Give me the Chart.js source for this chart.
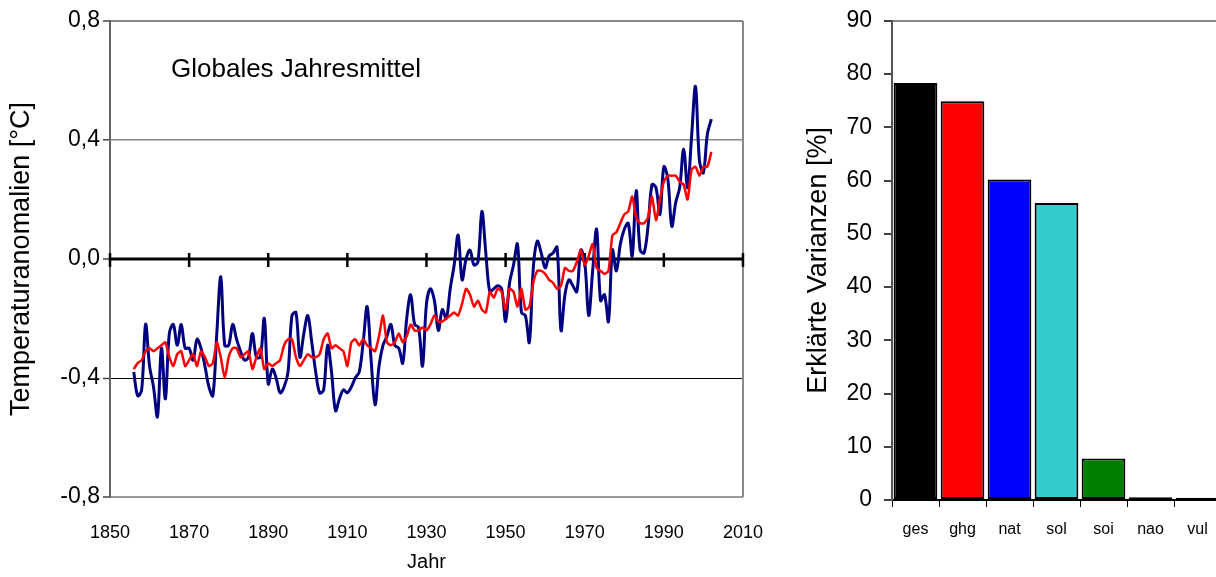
<!DOCTYPE html>
<html>
<head>
<meta charset="utf-8">
<script src="https://cdn.jsdelivr.net/npm/chart.js@4/dist/chart.umd.min.js"></script>
<style>
  html, body { margin: 0; padding: 0; background: #fff; overflow: hidden; width: 1216px; height: 577px; }
  #links { position: absolute; left: 0; top: 0; }
  #rechts { position: absolute; left: 780px; top: -5px; }
  #beschriftung { position: absolute; left: 171px; top: 53px; line-height: 30px; font-size: 26px;
    font-family: 'Liberation Sans', Arial, sans-serif; color: #000; white-space: nowrap; z-index: 2; }
</style>
</head>
<body>
<canvas id="links" width="780" height="577"></canvas>
<canvas id="rechts" width="445" height="582"></canvas>
<div id="beschriftung">Globales Jahresmittel</div>
<script>
// ---------- DATEN ----------
const startJahr = 1856;

// beobachtete Jahresmittel (blau), 1856-2002
const beobachtet = [
  -0.38, -0.46, -0.44, -0.22,
  -0.36, -0.43, -0.53, -0.30, -0.47, -0.25, -0.22, -0.29, -0.22, -0.30,
  -0.30, -0.34, -0.27, -0.30, -0.36, -0.43, -0.46, -0.25, -0.06, -0.29,
  -0.29, -0.22, -0.27, -0.31, -0.34, -0.33, -0.25, -0.33, -0.33, -0.20,
  -0.42, -0.37, -0.40, -0.45, -0.43, -0.38, -0.19, -0.18, -0.33, -0.25,
  -0.19, -0.28, -0.38, -0.45, -0.44, -0.29, -0.38, -0.51, -0.47, -0.44,
  -0.45, -0.43, -0.40, -0.38, -0.28, -0.16, -0.34, -0.49, -0.36, -0.29,
  -0.26, -0.22, -0.29, -0.30, -0.35, -0.20, -0.12, -0.22, -0.23, -0.36,
  -0.15, -0.10, -0.14, -0.24, -0.17, -0.20, -0.10, -0.02, 0.08, -0.07,
  0.00, 0.03, -0.02, -0.01, 0.16, 0.02, -0.11, -0.10, -0.09, -0.10,
  -0.21, -0.08, -0.02, 0.05, -0.18, -0.19, -0.28, -0.03, 0.06, 0.02,
  -0.03, 0.01, 0.02, 0.04, -0.24, -0.12, -0.07, -0.09, -0.11, 0.03,
  -0.01, -0.19, -0.04, 0.10, -0.14, -0.12, -0.21, 0.03, -0.04, 0.05,
  0.10, 0.12, 0.01, 0.23, 0.03, 0.02, 0.11, 0.25, 0.24, 0.15,
  0.31, 0.27, 0.11, 0.19, 0.24, 0.37, 0.24, 0.41, 0.58, 0.33,
  0.29, 0.42, 0.47
];

// Modell (rot), 1856-2002
const modell = [
  -0.37, -0.35, -0.34, -0.31,
  -0.30, -0.31, -0.30, -0.29, -0.28, -0.33, -0.36, -0.32, -0.31, -0.36,
  -0.34, -0.32, -0.36, -0.31, -0.33, -0.36, -0.35, -0.28, -0.33, -0.40,
  -0.33, -0.30, -0.30, -0.33, -0.32, -0.31, -0.37, -0.33, -0.30, -0.37,
  -0.35, -0.36, -0.35, -0.34, -0.29, -0.27, -0.27, -0.33, -0.36, -0.34,
  -0.32, -0.33, -0.33, -0.32, -0.27, -0.25, -0.30, -0.29, -0.30, -0.31,
  -0.36, -0.28, -0.27, -0.29, -0.27, -0.29, -0.30, -0.31, -0.26, -0.19,
  -0.28, -0.29, -0.28, -0.25, -0.28, -0.26, -0.22, -0.24, -0.24, -0.23,
  -0.24, -0.22, -0.19, -0.21, -0.21, -0.20, -0.19, -0.18, -0.19, -0.15,
  -0.10, -0.12, -0.16, -0.14, -0.17, -0.18, -0.11, -0.13, -0.10, -0.11,
  -0.17, -0.10, -0.11, -0.16, -0.10, -0.17, -0.16, -0.08, -0.04, -0.04,
  -0.05, -0.07, -0.08, -0.10, -0.09, -0.03, -0.04, -0.04, -0.01, 0.03,
  -0.02, 0.01, 0.05, -0.03, -0.04, -0.05, -0.04, 0.08, 0.09, 0.12,
  0.15, 0.16, 0.21, 0.14, 0.12, 0.12, 0.14, 0.21, 0.13, 0.20,
  0.26, 0.28, 0.28, 0.28, 0.26, 0.25, 0.20, 0.30, 0.31, 0.28,
  0.31, 0.31, 0.36
];

const jahre = beobachtet.map((_, i) => startJahr + i);

// Balken rechts
const kategorien = ['ges', 'ghg', 'nat', 'sol', 'soi', 'nao', 'vul'];
const varianzen = [78.3, 74.9, 60.2, 55.8, 7.8, 0.5, 0.4];
const balkenFarben = ['#000000', '#ff0000', '#0000ff', '#33cccc', '#008000', '#000000', '#000000'];

const schrift = "'Liberation Sans', Arial, sans-serif";
Chart.defaults.font.family = schrift;
Chart.defaults.color = '#000';

// ---------- NULLLINIE MIT KREUZ-TICKS + RAHMEN RECHTS ----------
const nullLinie = {
  id: 'nullLinie',
  beforeDatasetsDraw(chart) {
    const { ctx, chartArea, scales: { x, y } } = chart;
    const y0 = y.getPixelForValue(0);
    ctx.save();
    ctx.strokeStyle = '#888';
    ctx.lineWidth = 2;
    ctx.beginPath();
    ctx.moveTo(chartArea.right, chartArea.top);
    ctx.lineTo(chartArea.right, chartArea.bottom);
    ctx.stroke();

    ctx.strokeStyle = '#000';
    ctx.lineWidth = 3;
    ctx.beginPath();
    ctx.moveTo(chartArea.left, y0);
    ctx.lineTo(chartArea.right, y0);
    ctx.stroke();
    ctx.lineWidth = 2.5;
    ctx.beginPath();
    x.ticks.forEach(t => {
      const px = x.getPixelForValue(t.value);
      ctx.moveTo(px, y0 - 6);
      ctx.lineTo(px, y0 + 8);
    });
    ctx.stroke();
    ctx.restore();
  }
};

// ---------- LINIENDIAGRAMM ----------
new Chart(document.getElementById('links'), {
  type: 'line',
  data: {
    datasets: [
      {
        label: 'Modell',
        data: jahre.map((j, i) => ({ x: j, y: modell[i] })),
        borderColor: '#ff0000',
        borderWidth: 2.5,
        pointRadius: 0,
        tension: 0.2,
        order: 0
      },
      {
        label: 'Beobachtung',
        data: jahre.map((j, i) => ({ x: j, y: beobachtet[i] })),
        borderColor: '#000080',
        borderWidth: 3,
        pointRadius: 0,
        tension: 0.35,
        order: 1
      }
    ]
  },
  options: {
    responsive: false,
    animation: false,
    layout: { padding: { left: 0, top: 21, right: 35, bottom: 0 } },
    plugins: { legend: { display: false }, tooltip: { enabled: false } },
    scales: {
      x: {
        type: 'linear',
        min: 1850,
        max: 2010,
        afterFit: s => { s.height = 80; },
        ticks: {
          stepSize: 20,
          callback: v => String(v),
          font: { size: 18 },
          padding: 17,
          maxRotation: 0
        },
        grid: { display: false },
        border: { display: true, color: '#999', width: 2 },
        title: {
          display: true,
          text: 'Jahr',
          font: { size: 20 },
          padding: { top: 0, bottom: 3 }
        }
      },
      y: {
        min: -0.8,
        max: 0.8,
        afterFit: s => { s.width = 110; },
        ticks: {
          stepSize: 0.4,
          callback: v => (Math.abs(v) < 1e-9 ? 0 : v).toFixed(1).replace('.', ','),
          font: { size: 23 },
          padding: 3
        },
        grid: {
          color: c => {
            const v = c.tick ? c.tick.value : 0;
            if (Math.abs(v) < 1e-9) return 'rgba(0,0,0,0)';
            if (Math.abs(v + 0.4) < 1e-9) return '#000';
            return '#888';
          },
          lineWidth: c => {
            const v = c.tick ? c.tick.value : 0;
            if (Math.abs(v + 0.4) < 1e-9) return 1;
            if (Math.abs(v - 0.4) < 1e-9) return 1.5;
            return 2;
          },
          tickColor: '#444',
          tickWidth: 1.5,
          tickLength: 7
        },
        border: { display: true, color: '#666', width: 2 },
        title: {
          display: true,
          text: 'Temperaturanomalien [°C]',
          font: { size: 27 },
          padding: { top: 5, bottom: 0 }
        }
      }
    }
  },
  plugins: [nullLinie]
});

// ---------- BALKENDIAGRAMM ----------
new Chart(document.getElementById('rechts'), {
  type: 'bar',
  data: {
    labels: kategorien,
    datasets: [{
      data: varianzen,
      backgroundColor: balkenFarben,
      borderColor: '#000',
      borderWidth: 2,
      borderSkipped: false,
      barPercentage: 0.93,
      categoryPercentage: 1
    }]
  },
  options: {
    responsive: false,
    animation: false,
    layout: { padding: { left: 0, top: 0, right: 4, bottom: 0 } },
    plugins: { legend: { display: false }, tooltip: { enabled: false } },
    scales: {
      x: {
        afterFit: s => { s.height = 77; },
        ticks: { font: { size: 16 }, padding: 13 },
        grid: {
          display: true,
          offset: true,
          drawOnChartArea: false,
          drawTicks: true,
          tickLength: 7,
          tickColor: '#000',
          tickWidth: 1
        },
        border: { display: true, color: '#000', width: 2 }
      },
      y: {
        min: 0,
        max: 90,
        afterFit: s => { s.width = 112; },
        ticks: { stepSize: 10, font: { size: 23 }, padding: 12 },
        grid: {
          color: c => (c.tick && c.tick.value === 90 ? '#888' : 'rgba(0,0,0,0)'),
          lineWidth: 2,
          tickColor: '#000',
          tickWidth: 1.5,
          tickLength: 8
        },
        border: { display: true, color: '#555', width: 2 },
        title: {
          display: true,
          text: 'Erklärte Varianzen [%]',
          font: { size: 27 },
          padding: { top: 22, bottom: 0 }
        }
      }
    }
  }
});
</script>
</body>
</html>
